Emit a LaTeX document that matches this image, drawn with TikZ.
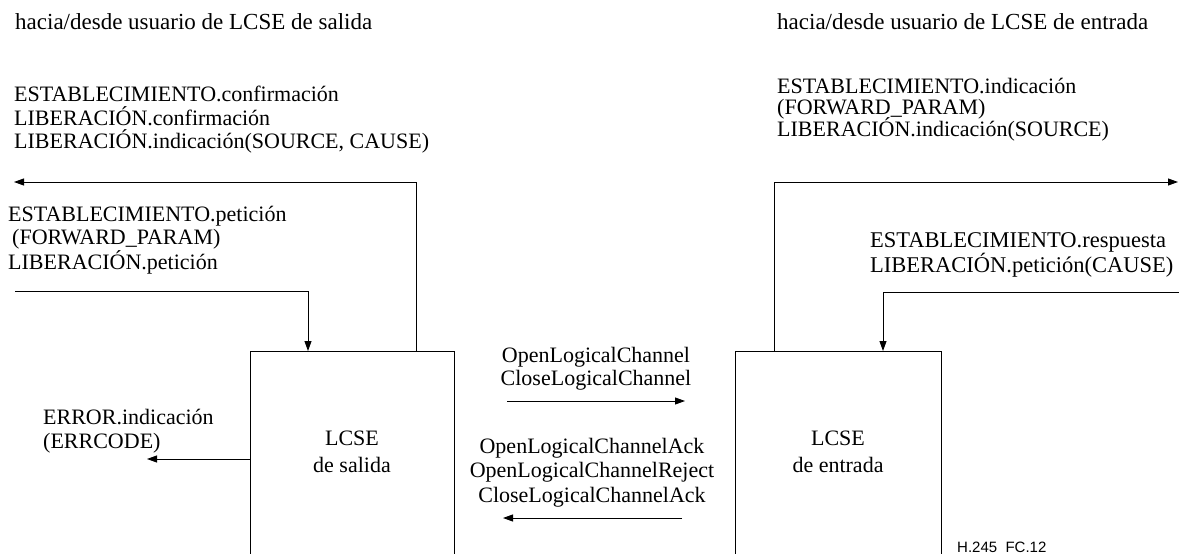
\documentclass[tikz,border=0pt]{standalone}
\usepackage{fontspec}
\setmainfont{Liberation Serif}
\newfontfamily\figsans{Liberation Sans}
\usetikzlibrary{arrows.meta}
\begin{document}
\begin{tikzpicture}[x=1pt,y=-1pt,
  every node/.style={inner sep=0pt, font=\fontsize{22}{23.5}\selectfont},
  lbl/.style={align=left},
  ctr/.style={align=center},
  fsm/.style={draw, line width=0.9pt, minimum height=240pt},
  conn/.style={line width=0.9pt},
  arr/.style={conn,-{Triangle[length=10pt,width=7pt]}}]
\useasboundingbox[fill=white] (0,0) rectangle (1179,554);

% boxes
\node[fsm, minimum width=204pt, anchor=north west] (lbox) at (250,351) {};
\node[fsm, minimum width=206pt, anchor=north west] (rbox) at (735,351) {};
\node[ctr, font=\fontsize{22}{27}\selectfont] (llbl) at (352,452) {LCSE\\de salida};
\node[ctr, font=\fontsize{22}{27}\selectfont] (rlbl) at (838,452) {LCSE\\de entrada};

% titles
\node[anchor=base west, font=\fontsize{23}{24}\selectfont] (tl) at (15,30) {hacia/desde usuario de LCSE de salida};
\node[anchor=base west, font=\fontsize{23}{24}\selectfont] (tr) at (777,30) {hacia/desde usuario de LCSE de entrada};

% left side texts
\node[lbl, anchor=north west] (l1) at (14,86) {ESTABLECIMIENTO.confirmación\\LIBERACIÓN.confirmación\\LIBERACIÓN.indicación(SOURCE, CAUSE)};
\node[lbl, anchor=north west] (l2) at (8,206) {ESTABLECIMIENTO.petición\\\hspace*{4pt}(FORWARD\_PARAM)\\LIBERACIÓN.petición};
\node[lbl, anchor=north west] (err) at (43,409) {ERROR.indicación\\(ERRCODE)};

% right side texts
\node[lbl, anchor=north west, font={\fontsize{22}{21.5}\selectfont\lineskiplimit=-8pt\relax}] (r1) at (777,78) {ESTABLECIMIENTO.indicación\\(FORWARD\_PARAM)\\LIBERACIÓN.indicación(SOURCE)};
\node[lbl, anchor=north west, font=\fontsize{22.5}{25}\selectfont] (r2) at (870,232) {ESTABLECIMIENTO.respuesta\\LIBERACIÓN.petición(CAUSE)};

% middle texts
\node[ctr, anchor=north] (m1) at (596,347) {OpenLogicalChannel\\CloseLogicalChannel};
\node[ctr, anchor=north, font=\fontsize{22}{24.5}\selectfont] (m2) at (592,438) {OpenLogicalChannelAck\\OpenLogicalChannelReject\\CloseLogicalChannelAck};

\node[anchor=base west, font=\figsans\fontsize{15}{15}\selectfont] (fig) at (957,552) {H.245\ \ FC.12};

% free ends
\coordinate (lout) at (14,182);
\coordinate (lin) at (15,291);
\coordinate (errend) at (147,459);
\coordinate (rout) at (1178,182);
\coordinate (rin) at (1179,292);
\coordinate (m1s) at (507,401);
\coordinate (m1e) at (685,401);
\coordinate (m2s) at (682,518);
\coordinate (m2e) at (503,518);

% connectors
\draw[arr] ([xshift=166pt]lbox.north west) |- (lout);
\draw[arr] (lin) -| ([xshift=58pt]lbox.north west);
\draw[arr] (errend -| lbox.west) -- (errend);
\draw[arr] ([xshift=39pt]rbox.north west) |- (rout);
\draw[arr] (rin) -| ([xshift=148pt]rbox.north west);
\draw[arr] (m1s) -- (m1e);
\draw[arr] (m2s) -- (m2e);
\end{tikzpicture}
\end{document}
